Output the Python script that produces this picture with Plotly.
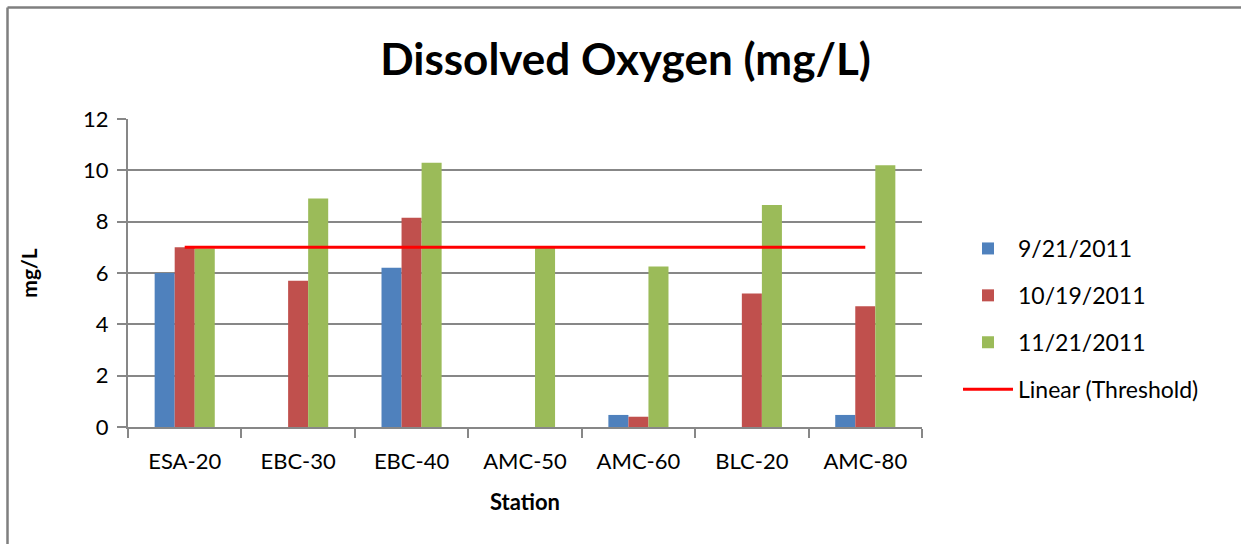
import plotly.graph_objects as go

stations = ["ESA-20", "EBC-30", "EBC-40", "AMC-50", "AMC-60", "BLC-20", "AMC-80"]
do_sep = [6.0, None, 6.2, None, 0.47, None, 0.47]
do_oct = [7.0, 5.7, 8.15, None, 0.4, 5.2, 4.7]
do_nov = [6.95, 8.9, 10.3, 7.05, 6.25, 8.65, 10.2]
threshold = [7, 7, 7, 7, 7, 7, 7]
series_names = ["9/21/2011", "10/19/2011", "11/21/2011"]
colors = ["#4F81BD", "#C0504D", "#9BBB59"]

FONT = "Lato"
W, H = 1241, 544
L, R, T, B = 128, 319, 119, 117
PW, PH = W - L - R, H - T - B

fig = go.Figure()
for name, vals, col in zip(series_names, [do_sep, do_oct, do_nov], colors):
    fig.add_trace(go.Bar(x=stations, y=vals, name=name, marker_color=col,
                         marker_line_width=0, legendgroup=name))
fig.add_trace(go.Scatter(x=stations, y=threshold, mode="lines", name="Linear (Threshold)",
                         line=dict(color="#FF0000", width=3), legendgroup="thr"))

grid = "#878787"
bx0 = (7.5 - L) / PW
by1 = 1 + (T - 7.5) / PH
border = dict(color="#7F7F7F", width=2.5)
fig.update_layout(
    width=W, height=H,
    margin=dict(l=L, r=R, t=T, b=B),
    paper_bgcolor="white", plot_bgcolor="white",
    barmode="group", bargap=0.47, bargroupgap=0,
    font=dict(family=FONT, color="black", size=22),
    title=dict(text="<b>Dissolved Oxygen (mg/L)</b>", x=0.5 + 5 / W, xanchor="center",
               y=1 - 60 / H, yanchor="middle", font=dict(size=44, family=FONT)),
    legend=dict(x=(958 - 128) / PW, y=1 - (319 - 119) / PH, xanchor="left", yanchor="middle",
                font=dict(size=23, family=FONT), tracegroupgap=14, itemwidth=50,
                bgcolor="rgba(0,0,0,0)"),
    showlegend=True,
    shapes=[
        dict(type="line", xref="paper", yref="paper", x0=bx0, x1=(W - L) / PW,
             y0=by1, y1=by1, line=border, layer="below"),
        dict(type="line", xref="paper", yref="paper", x0=bx0, x1=bx0,
             y0=-B / PH, y1=by1, line=border, layer="below"),
    ],
)
fig.update_xaxes(showline=True, linecolor=grid, linewidth=2, ticks="outside",
                 tickson="boundaries", ticklen=9, tickwidth=2, tickcolor=grid,
                 ticklabelstandoff=14, tickfont=dict(size=22),
                 title=dict(text="<b>Station</b>", font=dict(size=22), standoff=21),
                 showgrid=False)
fig.update_yaxes(range=[0, 12], dtick=2, showline=True, linecolor=grid, linewidth=2,
                 ticks="outside", ticklen=9, tickwidth=2, tickcolor=grid,
                 showgrid=True, gridcolor=grid, gridwidth=2, zeroline=False,
                 tickfont=dict(size=22), ticklabelstandoff=4,
                 title=dict(text="<b>mg/L</b>", font=dict(size=21), standoff=40))
fig.write_html("out.html", config={"displayModeBar": False},
               post_script="document.documentElement.style.overflow='hidden';"
                           "document.body.style.margin='0';document.body.style.overflow='hidden';")
